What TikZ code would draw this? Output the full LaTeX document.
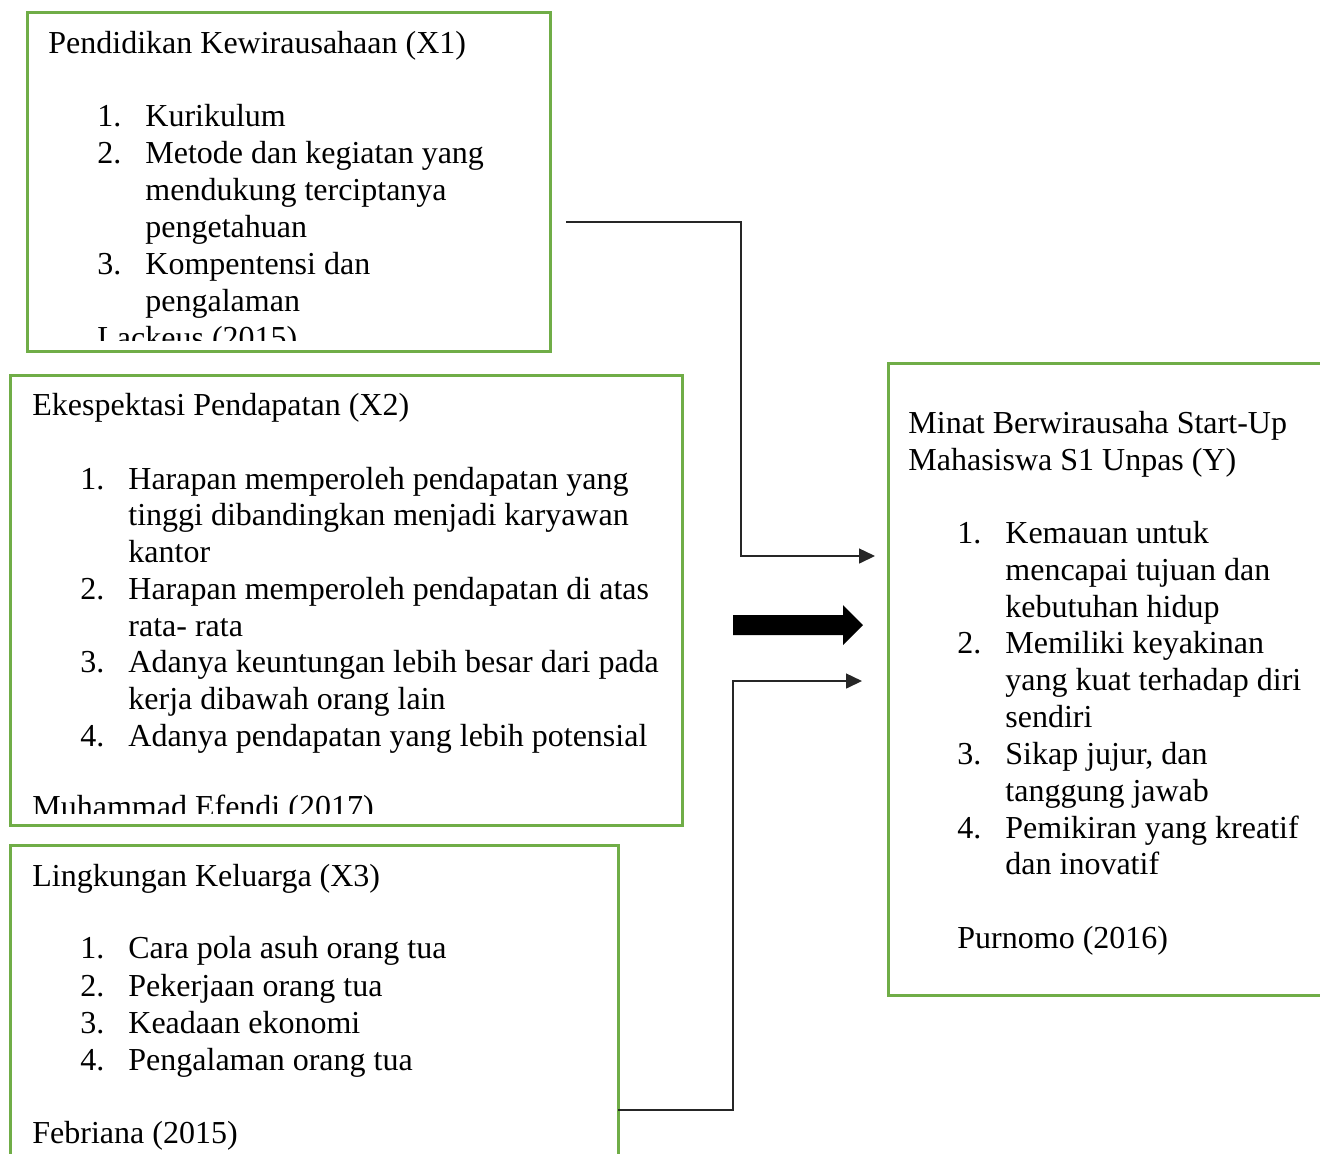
\documentclass[tikz,border=0pt]{standalone}
\usepackage{fontspec}
\setmainfont{Liberation Serif}
\usetikzlibrary{arrows.meta,fit}
\definecolor{boxgreen}{HTML}{70AD47}
\tikzset{
  frame/.style={draw=boxgreen, line width=1.5pt, inner sep=0pt},
  ln/.style={anchor=base west, inner sep=0pt, font=\fontsize{16pt}{18.5pt}\selectfont},
  conn/.style={draw=black!85, line width=0.75pt, -{Triangle[length=8pt,width=7.5pt]}},
  bigarrow/.style={fill=black},
}
\newcommand\Ln[4]{\node[ln] (#1) at (#2,#3) {#4};}
\begin{document}
\begin{tikzpicture}[x=0.5pt,y=-0.5pt]
\useasboundingbox (0,0) rectangle (1320,1153);

% boxes
\node[frame, fit={(27,12) (550,351)}] (b1) {};
\node[frame, fit={(10,375) (682,825)}] (b2) {};
\node[frame, fit={(10,845) (618,1180)}] (b3) {};
\node[frame, fit={(888,363) (1345,995)}] (b4) {};

\begin{scope}[yshift=-0.75pt]
% box 1 text
\begin{scope}
\clip (27,12) rectangle (550,338.5);
\Ln{a0}{48}{52}{Pendidikan Kewirausahaan (X1)}
\Ln{a1n}{97}{125}{1.}\Ln{a1}{145}{125}{Kurikulum}
\Ln{a2n}{97}{162}{2.}\Ln{a2}{145}{162}{Metode dan kegiatan yang}
\Ln{a2b}{145}{199}{mendukung terciptanya}
\Ln{a2c}{145}{236}{pengetahuan}
\Ln{a3n}{97}{273}{3.}\Ln{a3}{145}{273}{Kompentensi dan}
\Ln{a3b}{145}{310}{pengalaman}
\Ln{ar}{97}{347}{Lackeus (2015)}
\end{scope}

% box 2 text
\begin{scope}
\clip (10,375) rectangle (682,811.5);
\Ln{c0}{32}{414}{Ekespektasi Pendapatan (X2)}
\Ln{c1n}{80}{488}{1.}\Ln{c1}{128}{488}{Harapan memperoleh pendapatan yang}
\Ln{c1b}{128}{524}{tinggi dibandingkan menjadi karyawan}
\Ln{c1c}{128}{561}{kantor}
\Ln{c2n}{80}{598}{2.}\Ln{c2}{128}{598}{Harapan memperoleh pendapatan di atas}
\Ln{c2b}{128}{635}{rata- rata}
\Ln{c3n}{80}{671}{3.}\Ln{c3}{128}{671}{Adanya keuntungan lebih besar dari pada}
\Ln{c3b}{128}{708}{kerja dibawah orang lain}
\Ln{c4n}{80}{745}{4.}\Ln{c4}{128}{745}{Adanya pendapatan yang lebih potensial}
\Ln{cr}{32}{816}{Muhammad Efendi (2017)}
\end{scope}

% box 3 text
\Ln{d0}{32}{885}{Lingkungan Keluarga (X3)}
\Ln{d1n}{80}{957}{1.}\Ln{d1}{128}{957}{Cara pola asuh orang tua}
\Ln{d2n}{80}{995}{2.}\Ln{d2}{128}{995}{Pekerjaan orang tua}
\Ln{d3n}{80}{1032}{3.}\Ln{d3}{128}{1032}{Keadaan ekonomi}
\Ln{d4n}{80}{1069}{4.}\Ln{d4}{128}{1069}{Pengalaman orang tua}
\Ln{dr}{32}{1142}{Febriana (2015)}

% box 4 text
\Ln{e0}{908}{432}{Minat Berwirausaha Start-Up}
\Ln{e0b}{908}{469}{Mahasiswa S1 Unpas (Y)}
\Ln{e1n}{957}{542}{1.}\Ln{e1}{1005}{542}{Kemauan untuk}
\Ln{e1b}{1005}{579}{mencapai tujuan dan}
\Ln{e1c}{1005}{616}{kebutuhan hidup}
\Ln{e2n}{957}{652}{2.}\Ln{e2}{1005}{652}{Memiliki keyakinan}
\Ln{e2b}{1005}{689}{yang kuat terhadap diri}
\Ln{e2c}{1005}{726}{sendiri}
\Ln{e3n}{957}{763}{3.}\Ln{e3}{1005}{763}{Sikap jujur, dan}
\Ln{e3b}{1005}{800}{tanggung jawab}
\Ln{e4n}{957}{837}{4.}\Ln{e4}{1005}{837}{Pemikiran yang kreatif}
\Ln{e4b}{1005}{873}{dan inovatif}
\Ln{er}{957}{947}{Purnomo (2016)}
\end{scope}

% connectors
\coordinate (s1) at (566,222);
\coordinate (j1) at (741,556);
\coordinate (t1) at (875,556);
\draw[conn] (s1) -| (j1) -- (t1);

\coordinate (s3) at (618,1110);
\coordinate (j3) at (733,681);
\coordinate (t3) at (862,681);
\draw[conn] (s3) -| (j3) -- (t3);

% block arrow
\fill[bigarrow] (733,615) -- (843,615) -- (843,605) -- (863,625) -- (843,645) -- (843,635) -- (733,635) -- cycle;
\end{tikzpicture}
\end{document}
